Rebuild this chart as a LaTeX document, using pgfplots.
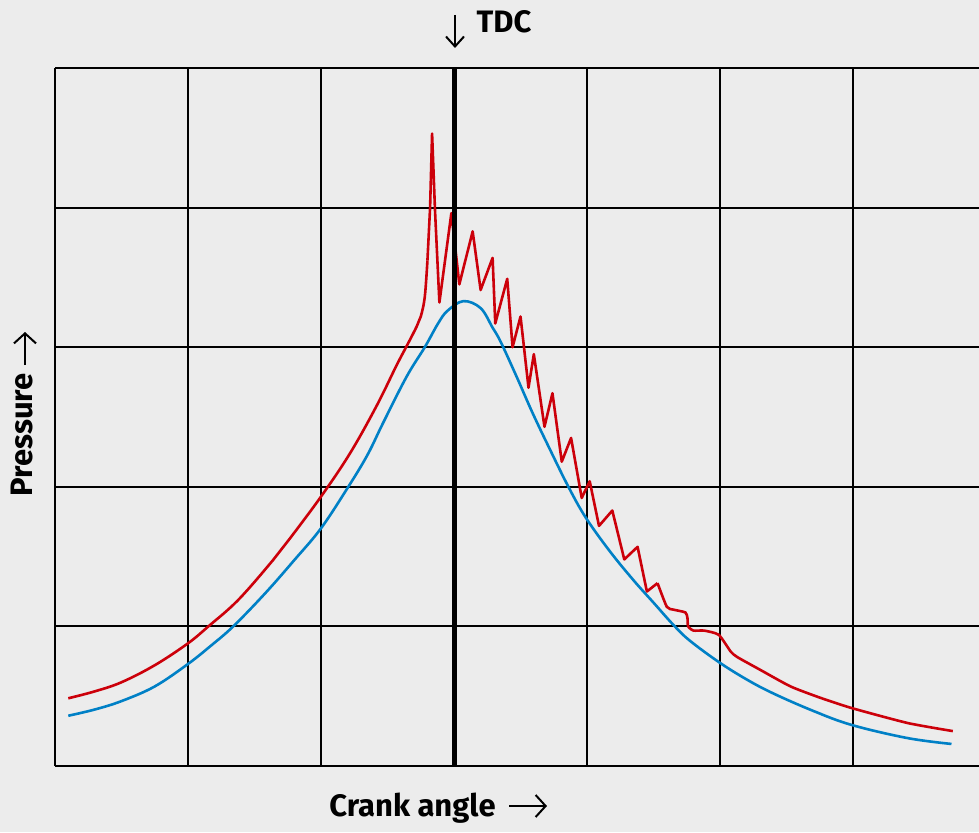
\documentclass[border=0pt]{standalone}
\usepackage{pgfplots}
\pgfplotsset{compat=1.18}
\usepackage{fontspec}
\setmainfont{Fira Sans}
\usetikzlibrary{arrows.meta}

\definecolor{bgc}{RGB}{236,236,236}
\definecolor{pred}{RGB}{204,0,10}
\definecolor{pblue}{RGB}{0,128,198}

\begin{document}
\begin{tikzpicture}
% background and page size (1 px = 0.5 pt)
\fill[bgc] (-27.5pt,-33pt) rectangle (462pt,383pt);
\path[use as bounding box] (-27.5pt,-33pt) rectangle (462pt,383pt);

\begin{axis}[
  at={(0,0)}, anchor=south west,
  scale only axis, width=462pt, height=349pt,
  xmin=0, xmax=6.947, ymin=0, ymax=5,
  xtick={0,...,6}, ytick={0,...,5},
  xticklabels={}, yticklabels={},
  tick style={draw=none},
  axis line style={draw=none},
  grid=major,
  major grid style={black, line width=1pt},
]
% motored (no combustion) pressure
\addplot[pblue, line width=1.3pt, smooth, tension=0.6] coordinates {
  (0.10,0.36) (0.30,0.405) (0.50,0.465) (0.75,0.57) (1.0,0.731) (1.17,0.86)
  (1.34,1.0) (1.58,1.237) (1.80,1.476) (2.0,1.703) (2.205,2.0) (2.35,2.23)
  (2.468,2.46) (2.644,2.79) (2.78,3.0) (2.88,3.17) (2.95,3.26) (3.07,3.33)
  (3.20,3.28) (3.29,3.14) (3.35,3.04) (3.47,2.79) (3.59,2.53) (3.72,2.27)
  (3.86,2.0) (3.99,1.78) (4.17,1.54) (4.35,1.33) (4.50,1.17) (4.65,1.01)
  (4.77,0.90) (4.99,0.745) (5.20,0.62) (5.40,0.52) (5.70,0.395) (5.99,0.294)
  (6.41,0.20) (6.74,0.158)
};
% knocking combustion: compression part
\addplot[pred, line width=1.3pt, smooth, tension=0.6] coordinates {
  (0.10,0.485) (0.30,0.535) (0.50,0.60) (0.752,0.723) (1.0,0.879) (1.153,1.0)
  (1.378,1.19) (1.64,1.476) (1.767,1.631) (2.0,1.93) (2.218,2.24) (2.418,2.58)
  (2.568,2.87) (2.656,3.03) (2.72,3.15) (2.75,3.22) (2.78,3.36) (2.80,3.62)
};
% knocking oscillations
\addplot[pred, line width=1.3pt, line join=round] coordinates {
  (2.80,3.62) (2.82,4.0) (2.835,4.53) (2.857,3.98) (2.89,3.32) (2.98,3.96)
  (3.04,3.45) (3.14,3.83) (3.20,3.41) (3.29,3.64) (3.31,3.17) (3.40,3.49)
  (3.44,3.00) (3.50,3.22) (3.56,2.71) (3.60,2.95) (3.68,2.43) (3.74,2.67)
  (3.81,2.18) (3.88,2.35) (3.96,1.92) (4.02,2.04) (4.09,1.72) (4.19,1.83)
  (4.28,1.48) (4.38,1.57) (4.45,1.25) (4.53,1.31)
};
% expansion tail
\addplot[pred, line width=1.3pt, smooth, tension=0.35] coordinates {
  (4.53,1.31) (4.60,1.14) (4.65,1.12) (4.74,1.10) (4.755,1.06) (4.76,1.0)
  (4.80,0.97) (4.88,0.97) (4.99,0.94) (5.08,0.82) (5.13,0.78) (5.30,0.69)
  (5.53,0.57) (5.75,0.49) (5.99,0.415) (6.41,0.308) (6.75,0.25)
};
% TDC line
\addplot[black, line width=2.5pt] coordinates {(3,0) (3,5)};
\end{axis}

\node[font=\fontsize{15.5}{18}\selectfont\bfseries] at (178.75pt,-21pt) {Crank angle};
\draw[-{Straight Barb[length=5pt,width=11pt]}, line width=1pt] (227pt,-20pt) -- (246pt,-20pt);
\node[font=\fontsize{15.5}{18}\selectfont\bfseries, rotate=90] at (-16.25pt,165.5pt) {Pressure};
\draw[-{Straight Barb[length=5pt,width=11pt]}, line width=1pt] (-15pt,200.5pt) -- (-15pt,217pt);
\draw[-{Straight Barb[length=5pt,width=9pt]}, line width=1pt] (200pt,375.5pt) -- (200pt,359pt);
\node[font=\fontsize{15.5}{18}\selectfont\bfseries] at (224.5pt,372pt) {TDC};
\end{tikzpicture}
\end{document}
